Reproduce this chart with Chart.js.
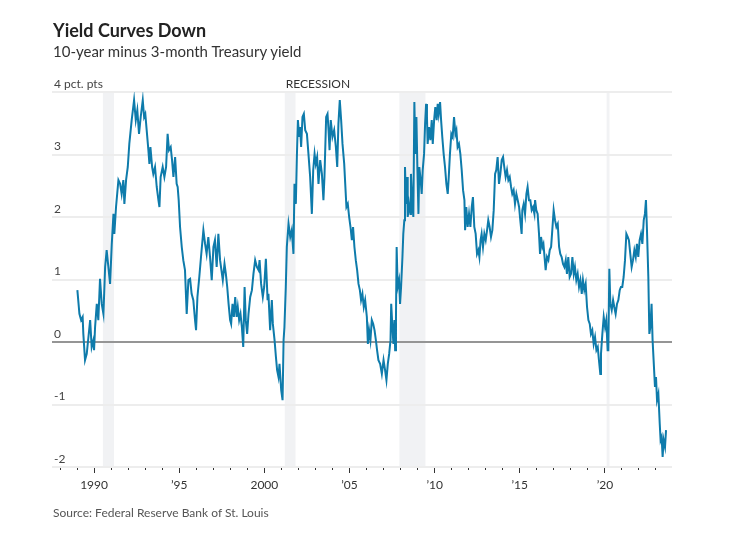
<!DOCTYPE html>
<html>
<head>
<meta charset="utf-8">
<script src="https://cdn.jsdelivr.net/npm/chart.js@4.4.0/dist/chart.umd.min.js"></script>
<style>
  html, body { margin: 0; padding: 0; background: #fff; }
  body { width: 743px; height: 534px; position: relative; overflow: hidden; font-family: Lato, "Noto Sans", sans-serif; }
  #wrap { position: absolute; left: 0; top: 0; width: 743px; height: 534px; }
  .txt { position: absolute; left: 53px; white-space: nowrap; color: #222; z-index: 2; }
  #title { top: 20px; font-size: 18px; font-weight: 700; line-height: 20px; color: #222; }
  #sub { top: 42px; font-size: 15px; line-height: 18px; color: #333; }
  #src { top: 505px; font-size: 12px; line-height: 16px; color: #555; }
</style>
</head>
<body>
<div id="title" class="txt">Yield Curves Down</div>
<div id="sub" class="txt">10-year minus 3-month Treasury yield</div>
<div id="src" class="txt">Source: Federal Reserve Bank of St. Louis</div>
<div id="wrap"><canvas id="c"></canvas></div>
<script>
// ---- Data ----
const years = [
1989.02,1989.14,1989.24,1989.33,1989.37,1989.47,1989.57,1989.67,1989.77,1989.86,1989.96,
1990.00,1990.06,1990.16,1990.25,1990.35,1990.45,1990.55,1990.65,1990.74,1990.84,1990.94,
1991.04,1991.14,1991.19,1991.29,1991.43,1991.53,1991.62,1991.72,1991.78,1991.88,1991.98,
1992.07,1992.21,1992.35,1992.45,1992.54,1992.64,1992.74,1992.86,1992.94,
1993.01,1993.09,1993.19,1993.25,1993.31,1993.41,1993.48,1993.58,1993.68,1993.78,1993.84,1993.91,
1994.03,1994.13,1994.23,1994.32,1994.40,1994.50,1994.58,1994.66,1994.76,1994.85,1994.91,1994.97,
1995.05,1995.15,1995.24,1995.34,1995.44,1995.54,1995.64,1995.73,1995.83,1995.93,1995.99,
1996.07,1996.18,1996.28,1996.42,1996.52,1996.61,1996.71,1996.81,1996.91,
1997.01,1997.10,1997.20,1997.30,1997.40,1997.56,1997.66,1997.74,1997.82,1997.90,1997.99,
1998.05,1998.13,1998.21,1998.29,1998.37,1998.44,1998.52,1998.60,1998.68,1998.76,1998.84,1998.91,1998.99,
1999.07,1999.17,1999.27,1999.36,1999.46,1999.56,1999.66,1999.72,1999.81,1999.91,1999.99,
2000.09,2000.19,2000.24,2000.34,2000.44,2000.50,2000.60,2000.68,2000.75,2000.83,2000.89,2000.99,
2001.07,2001.13,2001.18,2001.26,2001.32,2001.42,2001.52,2001.61,2001.71,2001.77,2001.85,2001.91,2001.97,
2002.05,2002.10,2002.16,2002.24,2002.32,2002.40,2002.50,2002.59,2002.69,2002.79,2002.87,2002.95,
2003.02,2003.10,2003.18,2003.28,2003.38,2003.47,2003.53,2003.63,2003.71,2003.77,2003.83,2003.90,
2004.00,2004.10,2004.20,2004.28,2004.35,2004.43,2004.51,2004.59,2004.69,2004.75,2004.82,2004.90,2004.98,
2005.06,2005.14,2005.21,2005.29,2005.37,2005.45,2005.53,2005.61,2005.68,2005.76,2005.84,2005.92,
2006.02,2006.08,2006.15,2006.23,2006.31,2006.39,2006.47,2006.55,2006.62,2006.70,2006.80,2006.90,
2007.00,2007.09,2007.17,2007.25,2007.33,2007.41,2007.45,2007.52,2007.58,2007.64,2007.68,2007.73,2007.77,2007.83,2007.91,2007.97,
2008.03,2008.11,2008.16,2008.22,2008.26,2008.32,2008.38,2008.42,2008.50,2008.58,2008.61,2008.69,2008.75,2008.81,2008.87,2008.93,2008.99,
2009.05,2009.10,2009.18,2009.24,2009.30,2009.38,2009.44,2009.50,2009.55,2009.59,2009.67,2009.75,2009.83,2009.89,2009.97,
2010.04,2010.12,2010.18,2010.24,2010.32,2010.38,2010.45,2010.53,2010.61,2010.69,2010.77,2010.83,2010.90,2010.98,
2011.06,2011.14,2011.22,2011.28,2011.35,2011.43,2011.51,2011.59,2011.67,2011.75,2011.79,2011.86,2011.94,
2012.02,2012.10,2012.18,2012.25,2012.33,2012.41,2012.49,2012.57,2012.63,2012.70,2012.76,2012.84,2012.92,
2013.00,2013.08,2013.15,2013.23,2013.31,2013.39,2013.47,2013.55,2013.62,2013.70,2013.78,2013.86,2013.94,
2014.02,2014.09,2014.17,2014.25,2014.33,2014.41,2014.49,2014.56,2014.64,2014.72,2014.80,2014.88,2014.96,
2015.03,2015.11,2015.15,2015.23,2015.31,2015.39,2015.46,2015.54,2015.62,2015.70,2015.78,2015.86,2015.90,2015.97,
2016.05,2016.13,2016.19,2016.25,2016.33,2016.39,2016.44,2016.52,2016.60,2016.68,2016.76,2016.84,2016.91,2016.99,
2017.07,2017.15,2017.23,2017.31,2017.38,2017.46,2017.54,2017.62,2017.70,2017.77,2017.85,2017.93,
2018.01,2018.09,2018.17,2018.24,2018.32,2018.40,2018.48,2018.56,2018.64,2018.71,2018.79,2018.87,2018.95,
2019.03,2019.11,2019.18,2019.26,2019.34,2019.42,2019.50,2019.58,2019.65,2019.73,2019.77,2019.85,2019.93,
2020.01,2020.08,2020.16,2020.20,2020.26,2020.32,2020.40,2020.48,2020.55,2020.63,2020.71,2020.79,2020.87,2020.94,
2021.02,2021.10,2021.18,2021.26,2021.34,2021.41,2021.49,2021.57,2021.65,2021.73,2021.81,2021.88,2021.96,
2022.04,2022.12,2022.20,2022.28,2022.35,2022.41,2022.47,2022.55,2022.61,2022.67,2022.74,2022.80,2022.86,2022.94,
2023.00,2023.06,2023.14,2023.22,2023.27,2023.33,2023.39,2023.45,2023.53,2023.59
];
const spread = [
0.83,0.45,0.35,0.40,0.13,-0.29,-0.19,0.08,0.35,-0.08,0.03,
-0.13,0.24,0.61,0.35,1.01,0.61,0.45,1.20,1.47,1.20,0.93,
1.57,2.05,1.73,2.16,2.59,2.53,2.37,2.59,2.21,2.59,2.80,
3.17,3.55,3.87,3.55,3.71,3.33,3.60,3.87,3.60,
3.65,3.39,3.07,2.85,3.12,2.80,2.69,2.80,2.48,2.27,2.16,2.64,
2.80,2.64,2.80,3.33,3.07,3.12,2.91,2.64,2.96,2.53,2.48,2.27,
1.84,1.52,1.31,1.15,0.45,0.99,1.01,0.77,0.67,0.35,0.19,
0.72,1.04,1.36,1.79,1.57,1.41,1.68,1.36,0.99,
1.52,1.63,1.20,1.73,1.31,0.99,1.25,1.09,0.88,0.61,0.35,
0.29,0.61,0.40,0.72,0.40,0.56,0.35,0.45,0.24,-0.08,0.88,0.35,0.13,
0.45,0.72,0.83,1.09,1.31,1.20,1.15,1.31,0.93,0.72,0.88,
1.33,0.67,0.77,0.19,0.67,0.29,0.03,-0.24,-0.45,-0.56,-0.35,-0.77,
-0.93,0.03,0.24,0.88,1.52,1.89,1.68,1.79,1.41,2.53,2.21,2.96,3.55,
3.28,3.44,3.12,3.60,3.65,3.39,3.33,3.01,2.64,2.05,2.75,3.01,
2.85,2.96,2.53,2.91,2.69,2.27,2.64,3.60,3.65,3.39,3.07,3.55,
3.28,3.39,3.12,2.80,3.49,3.87,3.55,3.17,2.85,2.53,2.16,2.21,2.00,
1.84,1.63,1.84,1.52,1.31,1.15,0.93,0.83,0.67,0.77,0.56,0.67,
0.40,-0.03,0.19,0.03,0.35,0.29,0.19,0.03,-0.13,-0.29,-0.35,-0.51,
-0.29,-0.45,-0.61,-0.35,-0.19,0.03,0.61,0.24,-0.03,0.35,-0.13,0.40,1.52,0.88,0.99,0.61,
0.88,1.36,1.73,1.95,2.80,2.21,2.64,2.00,2.21,2.05,2.69,2.21,2.00,3.84,3.01,3.60,2.75,
2.05,2.80,2.59,2.37,2.75,3.01,3.49,3.81,3.60,3.17,3.44,3.23,3.55,3.17,3.55,
3.76,3.55,3.81,3.65,3.84,3.55,3.28,3.01,2.80,2.53,2.37,2.64,3.01,3.33,
3.28,3.60,3.33,3.39,3.12,3.17,3.01,2.75,2.43,2.27,1.79,2.16,1.84,
2.05,1.84,2.16,2.32,1.84,1.73,1.41,1.47,1.36,1.63,1.73,1.52,1.73,
1.63,1.79,1.95,1.84,1.68,1.79,2.11,2.69,2.75,2.96,2.53,2.69,2.91,
2.96,2.80,2.64,2.75,2.59,2.64,2.48,2.37,2.43,2.21,2.37,2.27,2.16,
1.95,1.73,2.11,2.21,2.05,2.37,2.48,2.27,2.27,2.11,2.16,2.05,2.27,2.11,
2.05,1.73,1.41,1.68,1.52,1.57,1.41,1.15,1.36,1.31,1.47,1.52,1.79,2.11,
1.95,1.84,1.89,1.52,1.41,1.36,1.25,1.20,1.31,1.09,1.36,1.04,
1.09,1.36,1.09,1.20,0.99,1.09,0.88,0.99,0.77,0.99,0.83,0.93,0.56,
0.35,0.29,0.13,0.19,-0.03,0.08,-0.13,-0.08,-0.29,-0.51,-0.19,0.13,0.40,
0.24,0.35,-0.13,-0.13,1.17,0.61,0.51,0.67,0.56,0.45,0.61,0.67,0.83,0.88,
0.88,1.04,1.31,1.73,1.68,1.63,1.41,1.20,1.31,1.47,1.36,1.57,1.36,
1.63,1.73,1.57,1.95,2.05,2.27,1.79,1.04,0.13,0.24,0.61,0.03,-0.29,-0.72,
-0.56,-0.93,-0.83,-1.31,-1.57,-1.52,-1.84,-1.57,-1.68,-1.41
];
const recessionStart = [1990.52, 2001.20, 2007.93, 2020.10];
const recessionEnd   = [1991.17, 2001.83, 2009.46, 2020.27];
const recessionLabel = 'RECESSION';
const tickYears  = [1990, 1995, 2000, 2005, 2010, 2015, 2020];
const tickLabels = ['1990', '\u201995', '2000', '\u201905', '\u201910', '\u201915', '\u201920'];
const yTopLabel = '4 pct. pts';

const recessionPlugin = {
  id: 'recessions',
  beforeDraw(chart) {
    const {ctx, chartArea, scales} = chart;
    const x = scales.x;
    ctx.save();
    ctx.fillStyle = '#f1f2f4';
    recessionStart.forEach((s, i) => {
      const x0 = x.getPixelForValue(s);
      const x1 = x.getPixelForValue(recessionEnd[i]);
      ctx.fillRect(x0, chartArea.top, x1 - x0, chartArea.bottom - chartArea.top);
    });
    ctx.fillStyle = '#333';
    ctx.font = '12px Lato, "Noto Sans", sans-serif';
    ctx.textBaseline = 'alphabetic';
    ctx.textAlign = 'left';
    ctx.fillText(recessionLabel, x.getPixelForValue(recessionStart[1]) + 1, chartArea.top - 4);
    ctx.restore();
  }
};

new Chart(document.getElementById('c'), {
  type: 'line',
  data: {
    datasets: [{
      data: years.map((yr, i) => ({x: yr, y: spread[i]})),
      borderColor: '#0e7bab',
      borderWidth: 2,
      pointRadius: 0,
      tension: 0,
      fill: false
    }]
  },
  options: {
    responsive: true,
    maintainAspectRatio: false,
    animation: false,
    layout: { padding: { left: 52, right: 71, top: 92, bottom: 37 } },
    plugins: { legend: { display: false }, tooltip: { enabled: false } },
    scales: {
      x: {
        type: 'linear',
        min: 1987.53,
        max: 2023.94,
        afterFit: s => { s.height = 30; },
        border: { display: false },
        grid: {
          drawOnChartArea: false,
          drawTicks: true,
          tickLength: 6,
          tickColor: '#333',
          tickWidth: 1,
          tickBorderDash: c => (c.tick && Math.round(c.tick.value) % 5 === 0) ? [] : [3, 20]
        },
        ticks: {
          stepSize: 1,
          includeBounds: false,
          autoSkip: false,
          maxRotation: 0,
          padding: 5,
          color: '#333',
          font: { family: 'Lato, "Noto Sans", sans-serif', size: 12 },
          callback: v => { const i = tickYears.indexOf(Math.round(v)); return i >= 0 ? tickLabels[i] : ''; }
        }
      },
      y: {
        min: -2,
        max: 4,
        afterFit: s => { s.width = 0; },
        border: { display: false },
        grid: {
          drawTicks: false,
          color: c => c.tick && c.tick.value === 0 ? '#959595' : '#ededed',
          lineWidth: 2
        },
        ticks: {
          stepSize: 1,
          mirror: true,
          padding: 2,
          labelOffset: -8,
          color: '#444',
          font: { family: 'Lato, "Noto Sans", sans-serif', size: 12 },
          callback: v => v === 4 ? yTopLabel : String(v)
        }
      }
    }
  },
  plugins: [recessionPlugin]
});
</script>
</body>
</html>
